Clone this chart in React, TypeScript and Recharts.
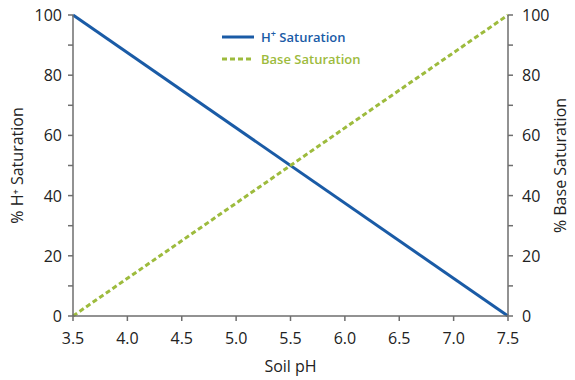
import React from 'react';
import { LineChart, Line, XAxis, YAxis } from 'recharts';

const soilPH = [3.5, 7.5];
const hSaturation = [100, 0];
const baseSaturation = [0, 100];
const xTicks = [3.5, 4.0, 4.5, 5.0, 5.5, 6.0, 6.5, 7.0, 7.5];
const yTicks = [0, 10, 20, 30, 40, 50, 60, 70, 80, 90, 100];

const data = soilPH.map((ph, i) => ({ ph, h: hSaturation[i], base: baseSaturation[i] }));

const BLUE = '#1a5ba6';
const GREEN = '#9dbb3d';
const AXIS = '#6e6e6e';
const FONT = '"Open Sans", "Noto Sans", sans-serif';

const LeftTick = (props: any) => {
  const { x, y, payload } = props;
  if (payload.value % 20 !== 0) return null;
  return (
    <text x={x - 4} y={y} dy={6} textAnchor="end" fontSize={16} fill="#222" fontFamily={FONT}>
      {payload.value}
    </text>
  );
};
const RightTick = (props: any) => {
  const { x, y, payload } = props;
  if (payload.value % 20 !== 0) return null;
  return (
    <text x={x + 7} y={y} dy={6} textAnchor="start" fontSize={16} fill="#222" fontFamily={FONT}>
      {payload.value}
    </text>
  );
};
const BottomTick = (props: any) => {
  const { x, y, payload } = props;
  return (
    <text x={x} y={y} dy={21} textAnchor="middle" fontSize={16} fill="#222" fontFamily={FONT}>
      {Number(payload.value).toFixed(1)}
    </text>
  );
};

const LegendOverlay = () => (
  <svg width={170} height={44} style={{ position: 'absolute', left: 220, top: 28, overflow: 'visible' }}>
    <line x1={2} y1={9} x2={34} y2={9} stroke={BLUE} strokeWidth={3} />
    <text x={41} y={14} fontSize={13} fontWeight={600} fill={BLUE} fontFamily={FONT}>
      H<tspan dy={-5} fontSize={9}>+</tspan><tspan dy={5}> Saturation</tspan>
    </text>
    <line x1={2} y1={31} x2={34} y2={31} stroke={GREEN} strokeWidth={3} strokeDasharray="5 3" />
    <text x={41} y={36} fontSize={13} fontWeight={600} fill={GREEN} fontFamily={FONT}>
      Base Saturation
    </text>
  </svg>
);

export default function App() {
  return (
    <div style={{ position: 'absolute', left: 0, top: 0, width: 575, height: 380, background: '#fff' }}>
      <LineChart width={575} height={380} data={data} margin={{ top: 15, right: 7, bottom: 14, left: 13 }}>
        <XAxis
          dataKey="ph"
          type="number"
          domain={[3.5, 7.5]}
          ticks={xTicks}
          tick={<BottomTick />}
          tickSize={5}
          stroke={AXIS}
          strokeWidth={1.5}
          height={50}
          interval={0}
          label={{ value: 'Soil pH', position: 'insideBottom', offset: -6, fontSize: 16, fill: '#222', fontFamily: FONT }}
        />
        <YAxis
          yAxisId="left"
          orientation="left"
          domain={[0, 100]}
          ticks={yTicks}
          tick={<LeftTick />}
          tickSize={5}
          stroke={AXIS}
          strokeWidth={1.5}
          width={60}
          interval={0}
          label={{ value: '% H\u207A Saturation', angle: -90, position: 'insideLeft', offset: 4, fontSize: 16, fill: '#222', fontFamily: FONT, style: { textAnchor: 'middle' } }}
        />
        <YAxis
          yAxisId="right"
          orientation="right"
          domain={[0, 100]}
          ticks={yTicks}
          tick={<RightTick />}
          tickSize={5}
          stroke={AXIS}
          strokeWidth={1.5}
          width={60}
          interval={0}
          label={{ value: '% Base Saturation', angle: -90, position: 'insideRight', offset: 8, fontSize: 16, fill: '#222', fontFamily: FONT, style: { textAnchor: 'middle' } }}
        />
        <Line yAxisId="left" dataKey="h" stroke={BLUE} strokeWidth={3} dot={false} isAnimationActive={false} />
        <Line yAxisId="right" dataKey="base" stroke={GREEN} strokeWidth={3} strokeDasharray="5 3" dot={false} isAnimationActive={false} />
      </LineChart>
      <LegendOverlay />
    </div>
  );
}
